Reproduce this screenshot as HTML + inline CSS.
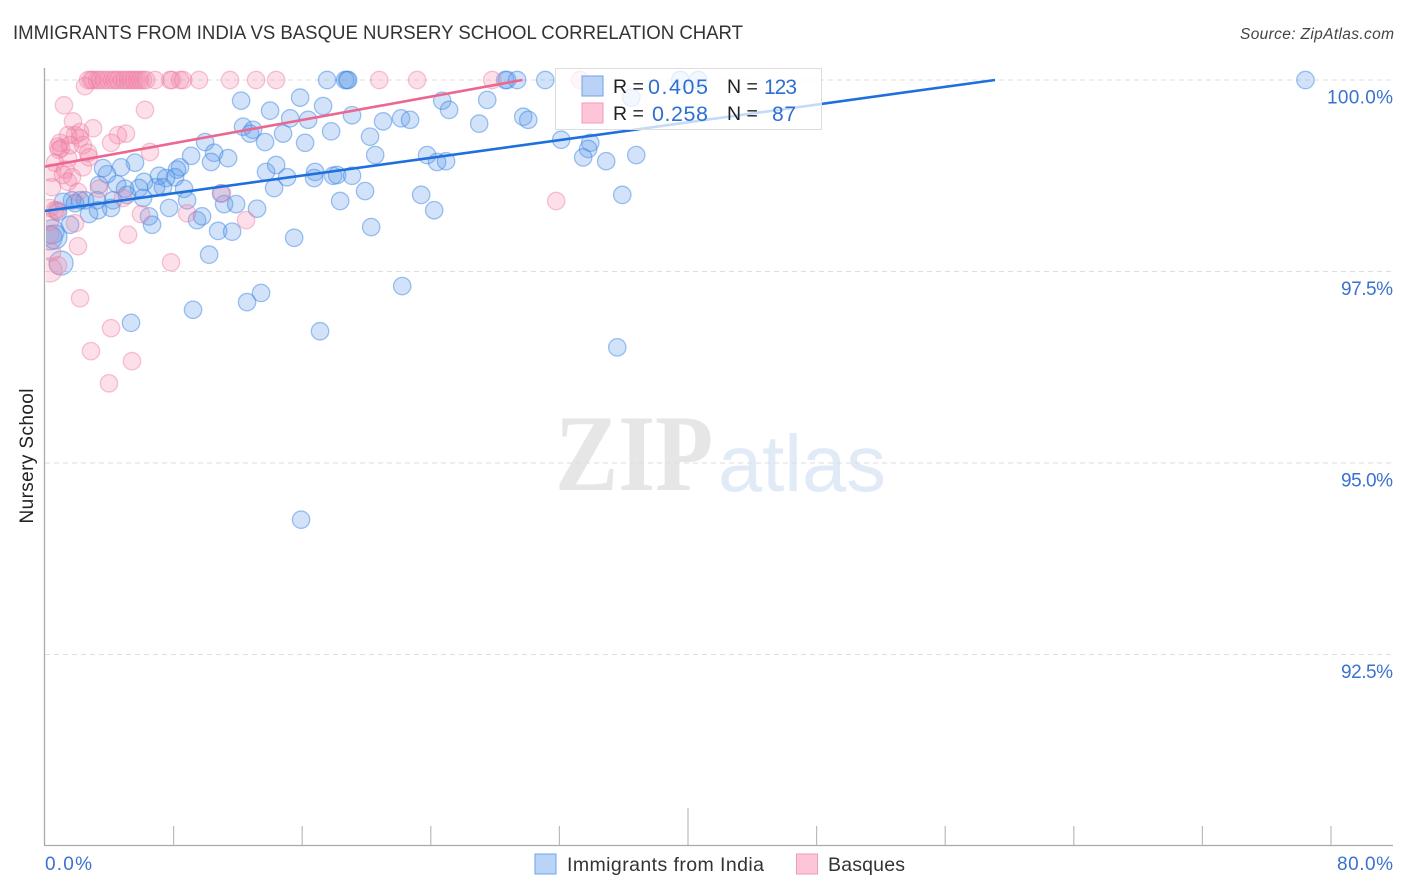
<!DOCTYPE html>
<html lang="en">
<head>
<meta charset="utf-8">
<title>Immigrants from India vs Basque Nursery School Correlation Chart</title>
<style>
html,body{margin:0;padding:0;background:#fff;}
svg{display:block;font-family:"Liberation Sans",sans-serif;}
</style>
</head>
<body>
<svg id="chart" xmlns="http://www.w3.org/2000/svg" width="1406" height="892" viewBox="0 0 1406 892">
  <defs><clipPath id="plot-clip"><rect x="46" y="60" width="1360" height="785"/></clipPath></defs>
  <rect width="1406" height="892" fill="#fff"/>
  <text x="13" y="39" font-size="19.5" fill="#333" textLength="730" lengthAdjust="spacingAndGlyphs">IMMIGRANTS FROM INDIA VS BASQUE NURSERY SCHOOL CORRELATION CHART</text>
  <text x="1394" y="39" font-size="15.5" font-style="italic" fill="#444" text-anchor="end" textLength="154">Source: ZipAtlas.com</text>
  <text x="555" y="490" font-family="'Liberation Serif',serif" font-weight="bold" font-size="109" fill="#e6e6e6" textLength="158" lengthAdjust="spacingAndGlyphs">ZIP</text>
  <text x="718" y="491" font-size="80" fill="#e1eaf7" textLength="168" lengthAdjust="spacingAndGlyphs">atlas</text>
  <g id="grid"></g>
  <g id="axes"></g>
  <g id="points" clip-path="url(#plot-clip)"></g>
  <g id="lines"></g>
  <g id="ticklabels"></g>
  <text transform="translate(33,456) rotate(-90)" font-size="19" fill="#222" text-anchor="middle" textLength="135">Nursery School</text>

  <g>
    <rect x="555.5" y="68.5" width="266" height="61" fill="#fff" fill-opacity="0.74" stroke="#ddd" stroke-width="1"/>
    <rect x="582" y="76" width="21" height="20" fill="#b9d2f5" stroke="#6ea2e6" stroke-width="1"/>
    <rect x="582" y="103" width="21" height="20" fill="#fdc5d7" stroke="#f29cba" stroke-width="1"/>
    <text x="613" y="93" font-size="19.5" fill="#222">R =</text>
    <text x="648" y="94" font-size="21.5" fill="#2f6fd0" textLength="60">0.405</text>
    <text x="727" y="93" font-size="19.5" fill="#222">N =</text>
    <text x="764" y="94" font-size="21" fill="#2f6fd0" textLength="33">123</text>
    <text x="613" y="120" font-size="19.5" fill="#222">R =</text>
    <text x="652" y="121" font-size="21.5" fill="#2f6fd0" textLength="56">0.258</text>
    <text x="727" y="120" font-size="19.5" fill="#222">N =</text>
    <text x="772" y="121" font-size="21" fill="#2f6fd0" textLength="24">87</text>
  </g>

  <g>
    <rect x="535" y="854" width="21" height="20" fill="#b9d4f7" stroke="#6fa3e8" stroke-width="1"/>
    <text x="567" y="871" font-size="19.5" fill="#333" textLength="197">Immigrants from India</text>
    <rect x="796.5" y="854" width="21" height="20" fill="#fcc6d8" stroke="#f09ab8" stroke-width="1"/>
    <text x="828" y="871" font-size="19.5" fill="#333" textLength="77">Basques</text>
  </g>
</svg>
<script>
const indiaX = [17.55,18.67,18.79,18.86,28.63,28.75,29.37,31.12,39.52,40.64,78.41,15.87,17.30,16.37,19.10,17.80,21.03,22.15,22.71,20.22,16.18,20.54,24.71,25.14,27.51,29.75,30.06,27.01,32.11,23.77,24.39,24.95,16.80,16.74,17.92,18.17,19.10,19.91,18.36,23.40,24.21,20.29,15.50,33.92,33.79,33.48,34.91,36.78,36.47,35.91,35.60,12.20,14.00,15.25,12.32,12.94,12.76,13.69,14.81,9.96,10.52,10.33,11.39,9.09,13.75,14.38,15.06,14.25,8.40,8.21,8.09,7.53,7.09,7.34,6.91,8.65,8.84,6.16,5.85,5.60,4.73,3.86,3.61,3.36,4.48,4.98,5.10,6.10,4.23,4.11,3.24,3.30,2.74,2.49,2.18,1.68,1.12,1.87,1.56,0.81,6.47,6.66,7.72,9.46,9.77,10.77,11.64,11.14,11.89,13.19,10.95,10.21,9.21,5.35,12.57,13.44,17.11,22.22,15.93];
const indiaY = [100,100,100,100,100,100,100,100,100,100,100,99.77,99.66,99.48,99.54,99.33,99.46,99.50,99.48,99.26,99.18,99.02,99.73,99.61,99.74,99.52,99.48,99.43,99.22,99.02,98.93,98.94,98.80,98.72,98.75,98.76,98.75,98.55,98.42,98.50,98.30,98.08,97.94,99.18,99.10,98.99,98.94,99.02,99.77,98.50,96.51,99.73,99.60,99.50,99.39,99.35,99.30,99.19,99.30,99.19,99.05,98.93,98.98,99.01,98.80,98.89,98.73,98.59,98.86,98.83,98.73,98.72,98.75,98.60,98.60,98.58,98.43,98.67,98.59,98.92,98.86,98.77,98.85,98.63,98.64,98.58,98.50,98.46,98.43,98.33,98.43,98.30,98.25,98.43,98.43,98.43,98.41,98.39,98.11,98.28,98.22,98.11,98.33,98.17,98.22,98.03,98.02,98.38,98.38,98.32,98.52,97.72,97.00,96.83,97.10,97.22,96.72,97.31,94.26];
const indiaLargeX = [1.00,0.44,0.31,0.62];
const indiaLargeY = [97.61,98.02,97.94,97.95];
const basqueX = [2.68,2.86,2.99,3.24,3.42,3.67,3.92,4.17,4.36,4.54,4.79,4.98,5.17,5.35,5.54,5.73,5.91,6.10,6.29,6.85,7.78,7.90,8.40,8.59,9.58,11.51,13.13,14.38,20.79,23.15,27.82,33.29,2.49,1.18,6.22,1.74,2.99,2.18,1.87,1.43,4.54,5.04,4.11,2.18,2.36,0.93,0.81,1.00,0.87,2.68,2.74,6.53,2.36,1.43,0.62,0.44,1.24,1.68,1.12,1.43,0.44,2.05,3.36,4.85,5.97,8.84,11.01,12.51,5.17,7.84,2.05,0.31,0.62,0.75,1.87,0.31,0.44,31.80,0.81,2.18,4.11,2.86,5.41,3.98,0.31,1.56];
const basqueY = [100,100,100,100,100,100,100,100,100,100,100,100,100,100,100,100,100,100,100,100,100,100,100,100,100,100,100,100,100,100,100,100,99.92,99.67,99.61,99.46,99.37,99.32,99.28,99.28,99.28,99.30,99.18,99.24,99.15,99.18,99.13,99.11,99.09,99.05,98.99,99.06,98.86,98.98,98.92,98.79,98.83,98.73,98.76,98.67,98.60,98.54,98.58,98.46,98.25,98.26,98.52,98.17,97.98,97.62,97.83,98.33,98.30,98.30,98.13,97.98,97.75,98.42,97.58,97.15,96.76,96.46,96.33,96.04,98.15,99.15];
const basqueLargeX = [0.31];
const basqueLargeY = [97.52];
const indiaTrendX = [0,59.1];
const indiaTrendY = [98.29,100];
const basqueTrendX = [0,29.7];
const basqueTrendY = [98.87,100];
const yTicks = [100,97.5,95,92.5];
const yTickLabels = ["100.0%","97.5%","95.0%","92.5%"];
const xTicks = [8,16,24,32,40,48,56,64,72,80];
const xEndLabels = ["0.0%","80.0%"];

const NS = 'http://www.w3.org/2000/svg';
const sx = v => 45 + v * 16.075;
const sy = v => 80 + (100 - v) * 76.6;
function make(tag, attrs, parent) {
  const el = document.createElementNS(NS, tag);
  Object.keys(attrs).forEach(k => el.setAttribute(k, attrs[k]));
  parent.appendChild(el);
  return el;
}
const grid = document.getElementById('grid');
const axes = document.getElementById('axes');
const pointsG = document.getElementById('points');
const linesG = document.getElementById('lines');
const labelsG = document.getElementById('ticklabels');

yTicks.forEach((t, i) => {
  const g = make('line', {x1: 45, x2: 1393, y1: sy(t), y2: sy(t), stroke: '#dedede', 'stroke-width': 1, 'stroke-dasharray': '5 4'}, grid);
  
  
  const lab = make('text', {x: 1393, y: sy(t) + 23.5, 'font-size': 19, fill: '#3a72d0', 'text-anchor': 'end', textLength: i === 0 ? 66 : 52}, labelsG);
  lab.textContent = yTickLabels[i];
  
  
});

const yAxis = make('line', {x1: 44.5, x2: 44.5, y1: 68, y2: 845.5, stroke: '#aaa', 'stroke-width': 1.3}, axes);


const xAxis = make('line', {x1: 44, x2: 1393, y1: 845.5, y2: 845.5, stroke: '#aaa', 'stroke-width': 1.3}, axes);


xTicks.forEach(t => {
  const top = t === 40 ? 808 : 826;
  const tk = make('line', {x1: sx(t), x2: sx(t), y1: top, y2: 845, stroke: '#bbb', 'stroke-width': 1.2}, axes);
  
  
});
const xl0 = make('text', {x: 45, y: 870, 'font-size': 19, fill: '#3a72d0', textLength: 47}, labelsG);
xl0.textContent = xEndLabels[0];


const xl1 = make('text', {x: 1393, y: 870, 'font-size': 19, fill: '#3a72d0', 'text-anchor': 'end', textLength: 56}, labelsG);
xl1.textContent = xEndLabels[1];



function drawSeries(xs, ys, r, fill, stroke, name) {
  xs.forEach((x, i) => {
    const c = make('circle', {cx: sx(x), cy: sy(ys[i]), r: r, fill: fill, stroke: stroke, 'stroke-width': 1.3}, pointsG);
    
    
  });
}
const blueFill = 'rgba(95,155,235,0.28)', blueStroke = 'rgba(65,135,228,0.5)';
const pinkFill = 'rgba(245,135,170,0.27)', pinkStroke = 'rgba(236,120,160,0.42)';
drawSeries(indiaX, indiaY, 8.7, blueFill, blueStroke, 'india-point');
drawSeries(indiaLargeX, indiaLargeY, 12, blueFill, blueStroke, 'india-point-large');
drawSeries(basqueX, basqueY, 8.7, pinkFill, pinkStroke, 'basque-point');
drawSeries(basqueLargeX, basqueLargeY, 12, pinkFill, pinkStroke, 'basque-point-large');

const tb = make('line', {x1: sx(indiaTrendX[0]), y1: sy(indiaTrendY[0]), x2: sx(indiaTrendX[1]), y2: sy(indiaTrendY[1]), stroke: '#1f6fdc', 'stroke-width': 2.6}, linesG);


const tp = make('line', {x1: sx(basqueTrendX[0]), y1: sy(basqueTrendY[0]), x2: sx(basqueTrendX[1]), y2: sy(basqueTrendY[1]), stroke: '#ec6690', 'stroke-width': 2.6}, linesG);


</script>
</body>
</html>
